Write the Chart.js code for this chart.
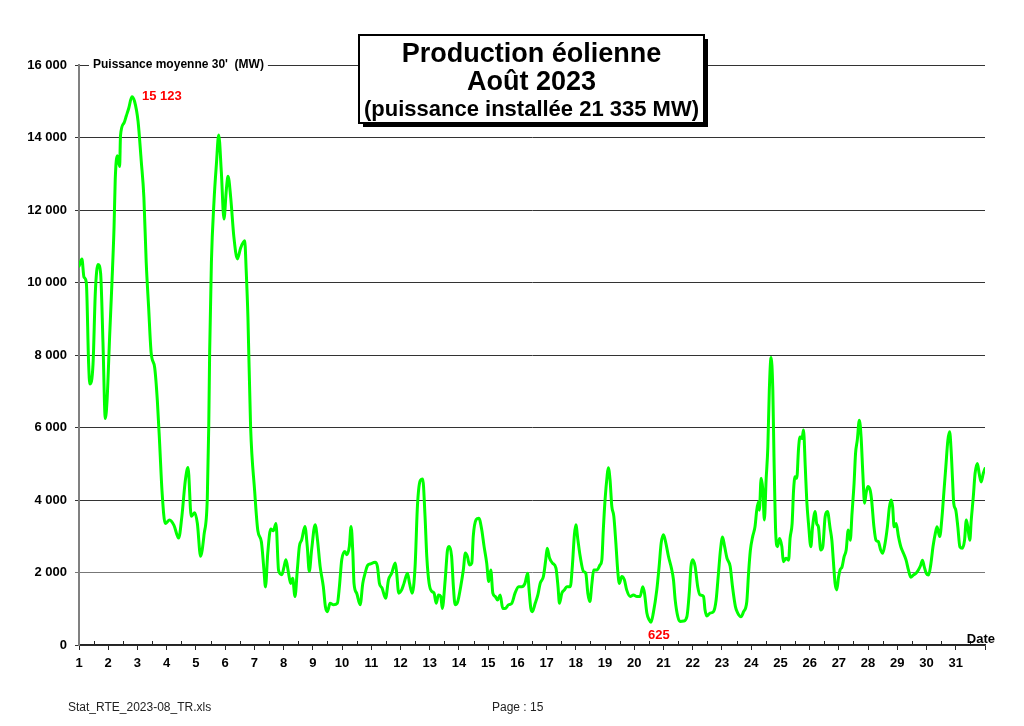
<!DOCTYPE html>
<html>
<head>
<meta charset="utf-8">
<script src="https://cdn.jsdelivr.net/npm/chart.js@4.4.0/dist/chart.umd.min.js"></script>
<style>
html,body{margin:0;padding:0;background:#fff;}
canvas{display:block;}
</style>
</head>
<body>
<canvas id="c" width="1024" height="726"></canvas>
<script>
// ---- Data (day of month, readings, MW) ----
const days = [
1.00,1.10,1.17,1.25,1.33,1.37,1.48,1.56,1.65,1.74,1.82,1.90,1.96,2.05,2.13,2.20,2.24,2.31,2.39,2.42,2.54,2.62,2.70,2.81,2.90,
3.02,3.13,3.22,3.30,3.38,3.47,3.59,3.68,3.76,3.84,3.95,4.10,4.25,4.41,4.52,4.64,4.73,4.84,4.96,5.05,5.16,5.28,5.39,5.44,5.47,
5.53,5.62,5.70,5.78,5.87,5.96,6.04,6.10,6.19,6.30,6.42,6.53,6.67,6.72,6.78,6.87,7.01,7.12,7.24,7.33,7.38,7.46,7.56,7.65,7.74,
7.83,7.94,8.02,8.08,8.16,8.24,8.31,8.39,8.47,8.54,8.62,8.73,8.81,8.88,8.96,9.08,9.16,9.25,9.36,9.43,9.50,9.59,9.71,9.84,9.91,
9.99,10.10,10.16,10.25,10.31,10.37,10.41,10.50,10.62,10.71,10.79,10.87,10.98,11.13,11.21,11.28,11.37,11.49,11.59,11.70,11.82,11.87,11.94,12.04,12.12,
12.24,12.31,12.40,12.50,12.58,12.67,12.76,12.84,12.90,12.98,13.07,13.15,13.22,13.30,13.38,13.43,13.53,13.61,13.67,13.75,13.81,13.87,13.96,14.06,14.15,
14.22,14.29,14.36,14.44,14.49,14.59,14.68,14.78,14.86,14.95,15.02,15.09,15.16,15.24,15.32,15.41,15.50,15.58,15.70,15.81,15.92,16.04,16.15,16.26,16.35,
16.40,16.46,16.51,16.61,16.70,16.78,16.89,16.97,17.02,17.10,17.20,17.32,17.39,17.44,17.52,17.61,17.69,17.81,17.88,17.95,18.00,18.07,18.15,18.26,18.34,
18.41,18.48,18.55,18.61,18.72,18.83,18.89,18.94,19.00,19.07,19.11,19.17,19.23,19.30,19.37,19.44,19.49,19.57,19.66,19.74,19.86,19.97,20.09,20.20,20.29,
20.35,20.43,20.51,20.57,20.65,20.77,20.85,20.92,21.00,21.08,21.17,21.27,21.34,21.40,21.49,21.57,21.69,21.80,21.88,21.94,22.00,22.08,22.17,22.25,22.37,
22.42,22.48,22.59,22.71,22.80,22.88,22.95,23.02,23.09,23.17,23.28,23.36,23.46,23.54,23.65,23.74,23.85,23.91,23.97,24.05,24.13,24.19,24.25,24.28,24.34,
24.40,24.45,24.51,24.57,24.62,24.68,24.74,24.78,24.84,24.90,24.97,25.05,25.10,25.19,25.28,25.33,25.40,25.45,25.50,25.56,25.62,25.67,25.74,25.79,25.85,
25.90,25.97,26.04,26.10,26.19,26.24,26.30,26.38,26.45,26.53,26.61,26.70,26.76,26.81,26.87,26.93,26.99,27.04,27.11,27.18,27.25,27.32,27.39,27.45,27.52,
27.57,27.63,27.70,27.76,27.82,27.88,27.93,27.99,28.07,28.12,28.20,28.27,28.35,28.43,28.50,28.58,28.66,28.73,28.79,28.84,28.89,28.96,29.04,29.12,29.21,
29.30,29.38,29.46,29.55,29.64,29.72,29.80,29.86,29.92,29.99,30.07,30.15,30.22,30.30,30.36,30.45,30.53,30.59,30.66,30.73,30.79,30.84,30.89,30.93,31.00,
31.07,31.14,31.22,31.30,31.36,31.41,31.48,31.53,31.60,31.66,31.74,31.80,31.87,31.94,32.00
];
const power = [
10450,10650,10150,10000,7750,7200,7750,9750,10500,10250,8350,6250,6750,8550,10050,11550,12850,13500,13200,14050,14400,14600,14800,15123,15000,
14450,13350,12350,10550,9350,8050,7650,6750,5550,4250,3350,3450,3300,2950,3550,4550,4900,3550,3650,3350,2450,3050,4050,6050,8050,
10550,12250,13250,14070,13050,11750,12550,12930,12350,11250,10650,10950,11150,10350,9050,6050,4250,3150,2850,2050,1600,2550,3200,3150,3350,
2050,1940,2170,2350,2030,1700,1840,1340,2070,2720,2900,3270,2720,2030,2630,3320,2900,2170,1610,1060,920,1150,1110,1150,1610,
2350,2580,2490,2720,3270,2540,1700,1430,1110,1700,1980,2190,2240,2280,2170,1700,1570,1290,1800,1980,2260,1980,1430,1520,1700,
1980,1700,1430,2170,3830,4520,4580,3550,2440,1700,1480,1430,1150,1380,1340,1010,1800,2630,2720,2440,1610,1110,1200,1610,2070,
2540,2440,2210,2260,3000,3460,3500,3180,2720,2260,1750,2070,1430,1340,1240,1380,1010,1010,1110,1150,1430,1610,1610,1700,1980,
1520,1010,920,1150,1380,1700,1890,2350,2670,2400,2260,2120,1610,1150,1430,1520,1610,1610,2170,3040,3320,2900,2440,2030,1980,
1430,1200,1700,2070,2070,2210,2350,3180,4010,4660,4890,4560,3830,3550,2810,1980,1700,1890,1800,1520,1340,1380,1340,1340,1610,
1430,880,690,625,880,1520,2170,2810,3040,2810,2440,2120,1800,1240,780,650,660,780,1430,2170,2350,2170,1610,1380,1340,
970,800,880,920,1240,1980,2630,2980,2720,2400,2170,1610,1060,880,780,920,1200,1980,2600,2990,3260,3720,3950,3720,4600,
4270,3450,4550,5470,7030,7930,7030,5190,3080,2710,2940,2710,2300,2390,2340,2940,3350,4270,4640,4600,5420,5740,5700,5930,4920,
4000,3260,2710,3260,3680,3350,3260,2620,2710,3540,3680,3220,2890,2340,1700,1520,1880,2070,2160,2440,2620,3170,2890,3630,4460,
5280,5650,6200,5740,4730,3910,4180,4370,4270,4000,3260,2890,2850,2620,2530,2800,3260,3810,4000,3810,3260,3350,2990,2710,2530,
2340,2070,1870,1930,1980,2070,2200,2340,2160,1980,1930,2250,2710,3080,3260,2990,3540,4180,4920,5650,5880,5380,4550,3910,3720,
3260,2710,2670,2890,3450,3260,2890,3450,4090,4730,5010,4730,4500,4730,4870
];
const dayTicks = [1,2,3,4,5,6,7,8,9,10,11,12,13,14,15,16,17,18,19,20,21,22,23,24,25,26,27,28,29,30,31];
const yTicks = [0,2000,4000,6000,8000,10000,12000,14000,16000];
const titleLines = ['Production éolienne','Août 2023','(puissance installée 21 335 MW)'];
const yAxisTitle = "Puissance moyenne 30'  (MW)";
const footerLeft = 'Stat_RTE_2023-08_TR.xls';
const footerCenter = 'Page : 15';

const FONT = "'Liberation Sans', Arial, sans-serif";
const fmt = v => String(v).replace(/\B(?=(\d{3})+(?!\d))/g, ' ');

const overlay = {
  id: 'overlay',
  afterDraw(chart) {
    const ctx = chart.ctx;
    const xs = chart.scales.x, ys = chart.scales.y;
    const ca = chart.chartArea;
    ctx.save();
    // half-day upward ticks
    ctx.strokeStyle = '#222'; ctx.lineWidth = 1;
    for (let i = 0; i < dayTicks.length; i++) {
      const px = Math.round(xs.getPixelForValue(dayTicks[i] + 0.5)) + 0.5;
      ctx.beginPath(); ctx.moveTo(px, ca.bottom - 4); ctx.lineTo(px, ca.bottom); ctx.stroke();
    }
    // y axis title label on top gridline
    ctx.font = 'bold 12px ' + FONT;
    const tw = ctx.measureText(yAxisTitle).width;
    const lx = ca.left + 14, ly = ys.getPixelForValue(16000);
    ctx.fillStyle = '#fff'; ctx.fillRect(lx - 4, ly - 7, tw + 8, 14);
    ctx.fillStyle = '#000'; ctx.textAlign = 'left'; ctx.textBaseline = 'middle';
    ctx.fillText(yAxisTitle, lx, ly);
    // title box
    const bx = 359, by = 35, bw = 345, bh = 88;
    ctx.fillStyle = '#000'; ctx.fillRect(bx + 4, by + 4, bw, bh);
    ctx.fillStyle = '#fff'; ctx.fillRect(bx, by, bw, bh);
    ctx.lineWidth = 2; ctx.strokeStyle = '#000'; ctx.strokeRect(bx, by, bw, bh);
    ctx.fillStyle = '#000'; ctx.textAlign = 'center'; ctx.textBaseline = 'alphabetic';
    const cx = bx + bw / 2;
    ctx.font = 'bold 27px ' + FONT; ctx.fillText(titleLines[0], cx, 62);
    ctx.fillText(titleLines[1], cx, 90);
    ctx.font = 'bold 22px ' + FONT; ctx.fillText(titleLines[2], cx, 116);
    // max / min labels
    let iMax = 0, iMin = 0;
    power.forEach((v, i) => { if (v > power[iMax]) iMax = i; if (v < power[iMin]) iMin = i; });
    ctx.fillStyle = '#ff0000'; ctx.font = 'bold 13px ' + FONT;
    ctx.textAlign = 'left'; ctx.textBaseline = 'middle';
    ctx.fillText(fmt(power[iMax]), xs.getPixelForValue(days[iMax]) + 10, ys.getPixelForValue(power[iMax]));
    ctx.textAlign = 'center';
    ctx.fillText(fmt(power[iMin]), xs.getPixelForValue(days[iMin]) + 8, ys.getPixelForValue(power[iMin]) + 13);
    // Date label
    ctx.fillStyle = '#000'; ctx.textAlign = 'right';
    ctx.fillText('Date', ca.right + 10, ca.bottom - 6);
    // footer
    ctx.fillStyle = '#222'; ctx.font = '12px ' + FONT; ctx.textAlign = 'left';
    ctx.fillText(footerLeft, 68, 708);
    ctx.fillText(footerCenter, 492, 708);
    ctx.restore();
  }
};

new Chart(document.getElementById('c'), {
  type: 'line',
  data: {
    datasets: [{
      data: days.map((d, i) => ({ x: d, y: power[i] })),
      borderColor: '#00ff00',
      borderWidth: 3,
      pointRadius: 0,
      cubicInterpolationMode: 'monotone',
      borderJoinStyle: 'round',
      borderCapStyle: 'round',
      fill: false
    }]
  },
  options: {
    responsive: false,
    animation: false,
    events: [],
    layout: { padding: { top: 65, right: 39, left: 0, bottom: 0 } },
    plugins: { legend: { display: false }, tooltip: { enabled: false } },
    scales: {
      x: {
        type: 'linear', min: 1, max: 32,
        afterBuildTicks: s => { s.ticks = dayTicks.concat([32]).map(v => ({ value: v })); },
        afterFit: s => { s.height = 81; },
        ticks: {
          callback: v => dayTicks.includes(v) ? String(v) : '',
          font: { family: FONT, weight: 'bold', size: 13 },
          color: '#000', maxRotation: 0, autoSkip: false, padding: 6
        },
        grid: { drawOnChartArea: false, tickLength: 5, color: '#222', lineWidth: 1 },
        border: { color: '#222', width: 1.5 }
      },
      y: {
        min: 0, max: 16000,
        afterBuildTicks: s => { s.ticks = yTicks.map(v => ({ value: v })); },
        afterFit: s => { s.width = 79; },
        ticks: {
          callback: v => fmt(v),
          font: { family: FONT, weight: 'bold', size: 13 },
          color: '#000', padding: 8
        },
        grid: { color: c => (c.tick && c.tick.value === 2000) ? '#777' : '#333', tickLength: 4, lineWidth: 1 },
        border: { color: '#808080', width: 2 }
      }
    }
  },
  plugins: [overlay]
});
</script>
</body>
</html>
